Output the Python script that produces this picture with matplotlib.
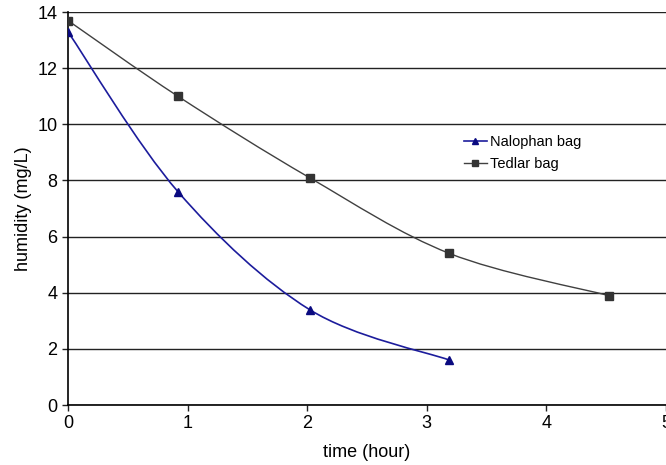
import matplotlib.pyplot as plt
from matplotlib.path import Path
from matplotlib.patches import PathPatch
import numpy as np

plt.rcParams['font.family'] = ['Liberation Sans', 'DejaVu Sans']

# data
nalophan_t = [0.0, 0.92, 2.02, 3.19]
nalophan_h = [13.3, 7.6, 3.4, 1.6]
tedlar_t = [0.0, 0.92, 2.02, 3.19, 4.52]
tedlar_h = [13.7, 11.0, 8.1, 5.4, 3.9]


def smooth_path(xs, ys):
    # Excel-like smoothed line: cubic bezier with catmull-rom style controls
    pts = np.column_stack([xs, ys])
    n = len(pts)
    verts = [pts[0]]
    codes = [Path.MOVETO]
    for i in range(n - 1):
        p0 = pts[i - 1] if i > 0 else pts[i]
        p1 = pts[i]
        p2 = pts[i + 1]
        p3 = pts[i + 2] if i + 2 < n else pts[i + 1]
        c1 = p1 + (p2 - p0) / 6.0
        c2 = p2 - (p3 - p1) / 6.0
        verts += [c1, c2, p2]
        codes += [Path.CURVE4] * 3
    return Path(verts, codes)


fig = plt.figure(figsize=(6.66, 4.65), dpi=100)
ax = fig.add_axes([0.102, 0.129, 0.898, 0.845])

ax.add_patch(PathPatch(smooth_path(tedlar_t, tedlar_h), fill=False,
                       edgecolor='#404040', lw=1.0, zorder=3))
ax.add_patch(PathPatch(smooth_path(nalophan_t, nalophan_h), fill=False,
                       edgecolor='#1c1c9c', lw=1.2, zorder=3))

ax.plot(nalophan_t, nalophan_h, linestyle='none', marker='^', ms=6,
        color='#0a0a80', zorder=4)
ax.plot(tedlar_t, tedlar_h, linestyle='none', marker='s', ms=6,
        color='#333333', zorder=4)

# legend proxies
ax.plot([], [], color='#1c1c9c', marker='^', ms=6, mfc='#0a0a80',
        mec='#0a0a80', lw=1.2, label='Nalophan bag')
ax.plot([], [], color='#404040', marker='s', ms=6, mfc='#333333',
        mec='#333333', lw=1.0, label='Tedlar bag')

ax.set_xlim(0, 5)
ax.set_ylim(0, 14)
ax.set_xticks(range(0, 6))
ax.set_yticks(range(0, 15, 2))
ax.yaxis.grid(True, color='#222222', lw=1.0)
ax.set_axisbelow(True)

for s in ['top', 'right']:
    ax.spines[s].set_visible(False)
ax.spines['left'].set_linewidth(1.2)
ax.spines['bottom'].set_linewidth(1.2)
ax.tick_params(labelsize=13, length=4, width=1, color='#222222')

ax.set_xlabel('time (hour)', fontsize=13, labelpad=8)
ax.set_ylabel('humidity (mg/L)', fontsize=13, labelpad=4)

ax.legend(loc='upper left', bbox_to_anchor=(0.64, 0.72), frameon=False,
          fontsize=10.5, handlelength=1.6, handletextpad=0.2,
          labelspacing=0.55, markerscale=0.8)

fig.savefig('out.png', dpi=100)
